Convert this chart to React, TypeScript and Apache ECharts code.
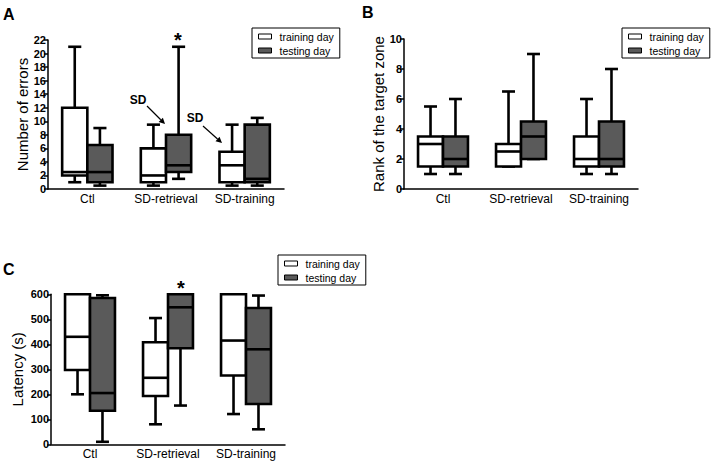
import React, { useEffect, useRef } from 'react';
import * as echarts from 'echarts';

const categories = ['Ctl', 'SD-retrieval', 'SD-training'];
const legendNames = ['training day', 'testing day'];
// each row: [min, Q1, median, Q3, max]
const errorsTraining = [[1, 2, 2.5, 12, 21], [0.5, 1, 2, 6, 9.5], [0.5, 1, 3.5, 5.5, 9.5]];
const errorsTesting = [[0.5, 1, 2.5, 6.5, 9], [1.5, 2.5, 3.5, 8, 21], [0.5, 1, 1.5, 9.5, 10.5]];
const rankTraining = [[1, 1.5, 3, 3.5, 5.5], [1.5, 1.5, 2.5, 3, 6.5], [1, 1.5, 2, 3.5, 6]];
const rankTesting = [[1, 1.5, 2, 3.5, 6], [2, 2, 3.5, 4.5, 9], [1, 1.5, 2, 4.5, 8]];
const latencyTraining = [[200, 297, 430, 600, 600], [80, 193, 266, 408, 505], [121, 275, 415, 600, 600]];
const latencyTesting = [[10, 134, 205, 585, 596], [155, 384, 548, 600, 600], [60, 161, 380, 545, 595]];
const yAxisNames = ['Number of errors', 'Rank of the target zone', 'Latency (s)'];
const yMax = [22, 10, 600];
const yInterval = [2, 2, 100];

const FONT = 'Arial, "Liberation Sans", Helvetica, sans-serif';
const LW = 2.6;
const DARK = '#5a5a5a';

const toData = (rows: number[][]) => rows.map((r, i) => [categories[i], ...r]);

const renderBox = (side: number, fill: string) => (params: any, api: any) => {
  const c = api.value(0);
  const vals = [1, 2, 3, 4, 5].map((i) => api.value(i));
  const pts = vals.map((v) => api.coord([c, v]));
  const band = api.size([1, 0])[0];
  const w = band * 0.32;
  const cx = pts[0][0];
  const x0 = side < 0 ? cx - w : cx;
  const mid = x0 + w / 2;
  const cap = w * 0.52;
  const [yMin, yQ1, yMed, yQ3, yMx] = pts.map((p: number[]) => p[1]);
  const ls = { stroke: '#000', lineWidth: LW };
  return {
    type: 'group',
    children: [
      { type: 'line', shape: { x1: mid, y1: yQ1, x2: mid, y2: yMin }, style: ls },
      { type: 'line', shape: { x1: mid - cap / 2, y1: yMin, x2: mid + cap / 2, y2: yMin }, style: ls },
      { type: 'line', shape: { x1: mid, y1: yQ3, x2: mid, y2: yMx }, style: ls },
      { type: 'line', shape: { x1: mid - cap / 2, y1: yMx, x2: mid + cap / 2, y2: yMx }, style: ls },
      { type: 'rect', shape: { x: x0, y: yQ3, width: w, height: yQ1 - yQ3 }, style: { fill, stroke: '#000', lineWidth: LW } },
      { type: 'line', shape: { x1: x0, y1: yMed, x2: x0 + w, y2: yMed }, style: ls },
    ],
  };
};

const arrow = (x1: number, y1: number, x2: number, y2: number) => {
  const dx = x2 - x1, dy = y2 - y1;
  const L = Math.sqrt(dx * dx + dy * dy);
  const ux = dx / L, uy = dy / L;
  const hl = 6, hw = 3;
  const bx = x2 - ux * hl, by = y2 - uy * hl;
  return [
    { type: 'line', shape: { x1, y1, x2: bx, y2: by }, style: { stroke: '#000', lineWidth: 1.2 } },
    {
      type: 'polygon',
      shape: { points: [[x2, y2], [bx - uy * hw, by + ux * hw], [bx + uy * hw, by - ux * hw]] },
      style: { fill: '#000' },
    },
  ];
};

export default function App() {
  const ref = useRef<HTMLDivElement>(null);
  useEffect(() => {
    if (!ref.current) return;
    const chart = echarts.init(ref.current, null, { renderer: 'svg' });
    const grids = [
      { left: 48, top: 40, width: 236, height: 149 },
      { left: 404, top: 39, width: 234, height: 150 },
      { left: 51, top: 294.3, width: 234, height: 150 },
    ];
    const nameGaps = [16, 18, 26];
    const legendPos = [
      { left: 252, top: 28 },
      { left: 622, top: 28 },
      { left: 278, top: 255 },
    ];
    const panels = [
      [errorsTraining, errorsTesting],
      [rankTraining, rankTesting],
      [latencyTraining, latencyTesting],
    ];
    const series: any[] = [];
    panels.forEach((p, i) => {
      series.push({
        type: 'custom', name: legendNames[0], xAxisIndex: i, yAxisIndex: i,
        renderItem: renderBox(-1, '#ffffff'), data: toData(p[0]),
        encode: { x: 0, y: [1, 2, 3, 4, 5] }, itemStyle: { color: '#fff' },
      });
      series.push({
        type: 'custom', name: legendNames[1], xAxisIndex: i, yAxisIndex: i,
        renderItem: renderBox(1, DARK), data: toData(p[1]),
        encode: { x: 0, y: [1, 2, 3, 4, 5] }, itemStyle: { color: DARK },
      });
    });
    const option: any = {
      animation: false,
      backgroundColor: '#fff',
      textStyle: { fontFamily: FONT },
      grid: grids,
      xAxis: grids.map((g, i) => ({
        type: 'category', gridIndex: i, data: categories,
        axisLine: { lineStyle: { color: '#000', width: 1.5 } },
        axisTick: { show: false },
        axisLabel: { color: '#000', fontSize: 12, fontFamily: FONT, margin: 4, interval: 0 },
      })),
      yAxis: grids.map((g, i) => ({
        type: 'value', gridIndex: i, min: 0, max: yMax[i], interval: yInterval[i],
        name: yAxisNames[i], nameLocation: 'middle', nameGap: nameGaps[i],
        nameTextStyle: { color: '#000', fontSize: 15, fontFamily: FONT },
        axisLine: { show: true, lineStyle: { color: '#000', width: 1.5 } },
        axisTick: { show: true, length: 4, lineStyle: { color: '#000', width: 1.5 } },
        axisLabel: { color: '#000', fontSize: 11, fontWeight: 'bold', fontFamily: FONT, margin: 2 },
        splitLine: { show: false },
      })),
      legend: legendPos.map((lp) => ({
        ...lp,
        orient: 'vertical',
        selectedMode: false,
        borderColor: '#000', borderWidth: 1,
        padding: [3, 6, 2, 6],
        itemGap: 3,
        itemWidth: 13, itemHeight: 5,
        textStyle: { fontSize: 10.5, color: '#000', fontFamily: FONT, padding: [0, 0, 0, 3] },
        data: [
          { name: legendNames[0], icon: 'rect', itemStyle: { color: '#fff', borderColor: '#000', borderWidth: 1 } },
          { name: legendNames[1], icon: 'rect', itemStyle: { color: DARK, borderColor: '#000', borderWidth: 1 } },
        ],
      })),
      graphic: [
        { type: 'text', left: 3, top: 6, style: { text: 'A', font: `bold 16px ${FONT}`, fill: '#000' } },
        { type: 'text', left: 362, top: 4, style: { text: 'B', font: `bold 16px ${FONT}`, fill: '#000' } },
        { type: 'text', left: 3, top: 261, style: { text: 'C', font: `bold 16px ${FONT}`, fill: '#000' } },
        { type: 'text', x: 178, y: 40, style: { text: '*', font: `bold 20px ${FONT}`, fill: '#000', align: 'center', verticalAlign: 'middle' } },
        { type: 'text', x: 181, y: 288, style: { text: '*', font: `bold 20px ${FONT}`, fill: '#000', align: 'center', verticalAlign: 'middle' } },
        { type: 'text', x: 138, y: 100, style: { text: 'SD', font: `bold 12px ${FONT}`, fill: '#000', align: 'center', verticalAlign: 'middle' } },
        { type: 'text', x: 195, y: 118, style: { text: 'SD', font: `bold 12px ${FONT}`, fill: '#000', align: 'center', verticalAlign: 'middle' } },
        ...arrow(147, 106, 165, 124),
        ...arrow(203, 126, 222, 143),
      ],
      series,
    };
    chart.setOption(option);
    return () => chart.dispose();
  }, []);
  return <div ref={ref} style={{ position: 'fixed', left: 0, top: 0, width: 713, height: 462, background: '#fff' }} />;
}
